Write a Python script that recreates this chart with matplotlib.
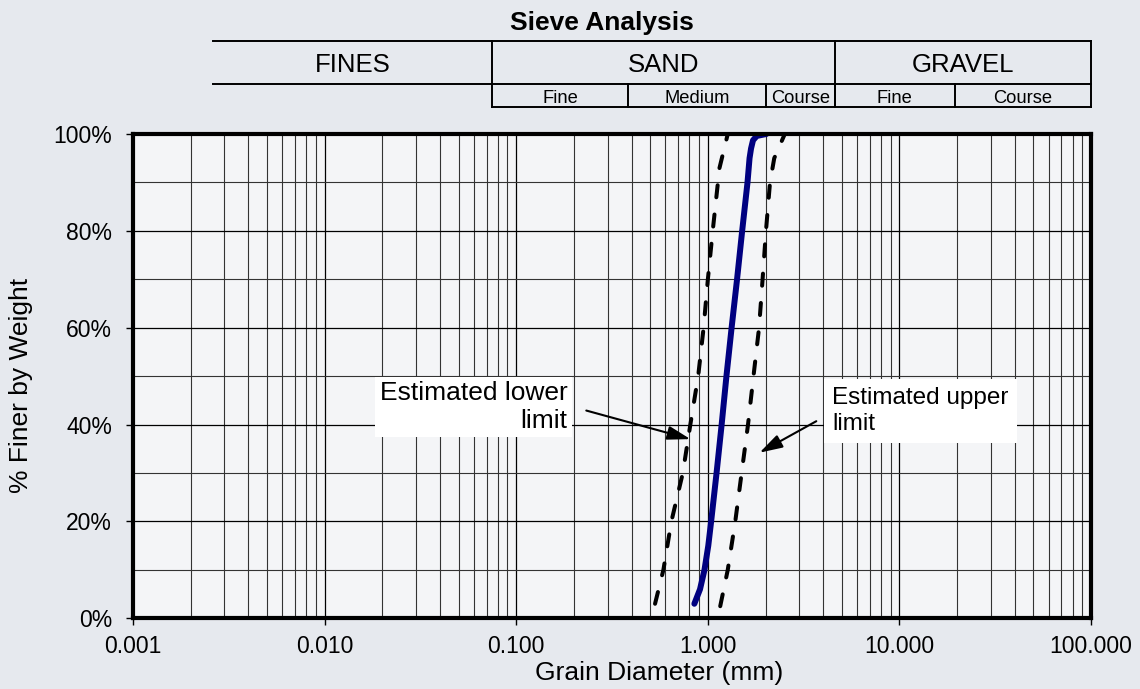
import matplotlib.pyplot as plt
from matplotlib.ticker import FixedLocator, LogLocator, NullFormatter

plt.rcParams['font.family'] = ['Liberation Sans', 'DejaVu Sans']

# gradation curve (grain size in mm, % finer)
main_d = [0.85, 0.91, 0.96, 1.005, 1.04, 1.11, 1.18, 1.25, 1.33, 1.42, 1.51, 1.61, 1.65, 1.68, 1.72, 1.80, 2.02]
main_p = [3, 6, 10, 15, 20, 30, 40, 50, 60, 70, 80, 90, 95, 97, 98.7, 99.6, 100]

# estimated limits
lower_d = [0.53, 0.586, 0.645, 0.74, 0.81, 0.89, 0.95, 1.00, 1.06, 1.15, 1.27]
lower_p = [3, 10, 20, 30, 40, 50, 60, 70, 80, 93, 100]
upper_d = [1.16, 1.27, 1.39, 1.50, 1.62, 1.73, 1.85, 1.93, 2.01, 2.11, 2.22, 2.52]
upper_p = [2.5, 10, 20, 30, 40, 50, 60, 70, 80, 90, 95, 100]

# header table (soil classes)
zone_names = ['FINES', 'SAND', 'GRAVEL']
zone_edges = [0.0026, 0.075, 4.6, 100]
sub_names = ['Fine', 'Medium', 'Course', 'Fine', 'Course']
sub_edges = [0.075, 0.385, 2.0, 4.6, 19.4, 100]

x_ticks = [0.001, 0.01, 0.1, 1, 10, 100]
x_labels = ['0.001', '0.010', '0.100', '1.000', '10.000', '100.000']
y_ticks = [0, 20, 40, 60, 80, 100]
y_minor = [10, 30, 50, 70, 90]

fig = plt.figure(figsize=(11.4, 6.89), dpi=100)
fig.patch.set_facecolor('#e6e9ee')
ax = fig.add_axes([0.1167, 0.1026, 0.8404, 0.7029])
ax.set_facecolor('#f4f5f7')

ax.set_xscale('log')
ax.set_xlim(0.001, 100)
ax.set_ylim(0, 100)

ax.xaxis.set_major_locator(FixedLocator(x_ticks))
ax.set_xticklabels(x_labels)
ax.xaxis.set_minor_locator(LogLocator(base=10, subs=range(2, 10)))
ax.xaxis.set_minor_formatter(NullFormatter())
ax.yaxis.set_major_locator(FixedLocator(y_ticks))
ax.set_yticklabels([f'{v}%' for v in y_ticks])
ax.yaxis.set_minor_locator(FixedLocator(y_minor))

ax.grid(which='major', color='black', lw=0.9)
ax.grid(which='minor', color='#333333', lw=0.8)
ax.set_axisbelow(True)

ax.tick_params(which='major', direction='out', length=5, width=1, labelsize=16.5)
ax.tick_params(axis='x', which='major', pad=7)
ax.tick_params(axis='y', which='major', pad=10)
ax.tick_params(which='minor', length=0)
for s in ax.spines.values():
    s.set_linewidth(3)

# curves
ax.plot(lower_d, lower_p, color='black', lw=2.9, ls=(0, (3, 4.3)), dash_capstyle='round')
ax.plot(upper_d, upper_p, color='black', lw=2.9, ls=(0, (3, 4.3)), dash_capstyle='round')
ax.plot(main_d, main_p, color='#000080', lw=4.3, solid_capstyle='round', solid_joinstyle='round')

# annotations
ax.text(0.185, 43.7, 'Estimated lower\nlimit', ha='right', va='center', multialignment='right',
        fontsize=19, bbox=dict(fc='white', ec='none', pad=3))
ax.text(4.47, 42.8, 'Estimated upper\nlimit', ha='left', va='center', multialignment='left',
        fontsize=17.5, bbox=dict(fc='white', ec='none', pad=6))
arrow = dict(arrowstyle='-|>,head_length=1.0,head_width=0.3', color='black', lw=1.5,
             mutation_scale=14, shrinkA=0, shrinkB=0)
ax.annotate('', xy=(0.811, 37.0), xytext=(0.232, 42.9), arrowprops=arrow)
ax.annotate('', xy=(1.86, 34.2), xytext=(3.68, 40.7), arrowprops=arrow)

ax.set_xlabel('Grain Diameter (mm)', fontsize=19)
ax.xaxis.set_label_coords(0.549, -0.088)
ax.set_ylabel('% Finer by Weight', fontsize=19)
ax.yaxis.set_label_coords(-0.1044, 0.4807)

# header table above the plot
tr = ax.get_xaxis_transform()
y_top, y_mid, y_bot = 1.1927, 1.1032, 1.0551
line_kw = dict(color='black', lw=1.4, transform=tr, clip_on=False, solid_capstyle='projecting')
ax.plot([zone_edges[0], zone_edges[-1]], [y_top, y_top], **line_kw)
ax.plot([zone_edges[0], zone_edges[-1]], [y_mid, y_mid], **line_kw)
ax.plot([sub_edges[0], sub_edges[-1]], [y_bot, y_bot], **line_kw)
for e in zone_edges[1:]:
    ax.plot([e, e], [y_top, y_bot], **line_kw)
for e in sub_edges[1:-1]:
    ax.plot([e, e], [y_mid, y_bot], **line_kw)

for name, a, b in zip(zone_names, zone_edges[:-1], zone_edges[1:]):
    ax.text((a * b) ** 0.5, 1.1286, name, transform=tr, ha='center', va='baseline', fontsize=18.5)
for name, a, b in zip(sub_names, sub_edges[:-1], sub_edges[1:]):
    ax.text((a * b) ** 0.5, 1.0646, name, transform=tr, ha='center', va='baseline', fontsize=13.2)

ax.text(0.489, 1.2157, 'Sieve Analysis', transform=ax.transAxes, ha='center', va='baseline',
        fontsize=19, fontweight='bold')

fig.savefig('out.png', dpi=100, facecolor=fig.get_facecolor())
